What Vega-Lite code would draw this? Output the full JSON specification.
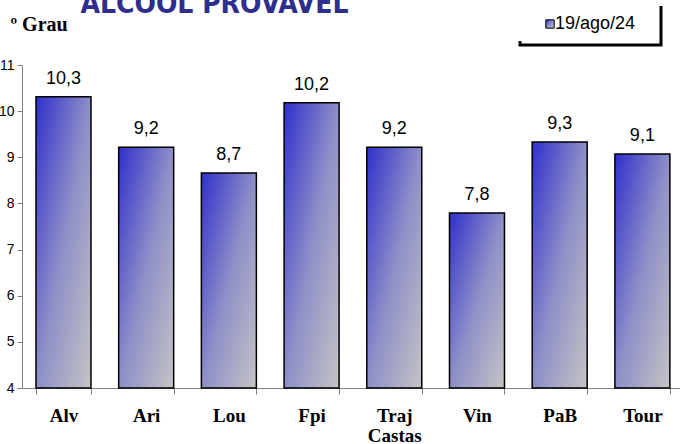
{
  "$schema": "https://vega.github.io/schema/vega-lite/v6.json",
  "width": 658,
  "height": 323,
  "autosize": {"type": "none"},
  "padding": {"left": 22, "top": 65, "right": 0, "bottom": 56},
  "data": {
    "values": [
      {"local": "Alv", "grau": 10.31, "rotulo": "10,3"},
      {"local": "Ari", "grau": 9.22, "rotulo": "9,2"},
      {"local": "Lou", "grau": 8.66, "rotulo": "8,7"},
      {"local": "Fpi", "grau": 10.18, "rotulo": "10,2"},
      {"local": "Traj Castas", "grau": 9.22, "rotulo": "9,2"},
      {"local": "Vin", "grau": 7.79, "rotulo": "7,8"},
      {"local": "PaB", "grau": 9.33, "rotulo": "9,3"},
      {"local": "Tour", "grau": 9.07, "rotulo": "9,1"}
    ]
  },
  "encoding": {
    "x": {
      "field": "local",
      "type": "nominal",
      "sort": null,
      "scale": {"paddingInner": 0.335, "paddingOuter": 0.1457, "align": 0.58},
      "axis": {
        "title": "ALCOOL PROVAVEL",
        "titleAngle": 0,
        "titleAlign": "left",
        "titleBaseline": "alphabetic",
        "titleX": 58,
        "titleY": -376,
        "titleFont": "DejaVu Sans Condensed",
        "titleFontWeight": "bold",
        "titleFontSize": 28,
        "titleColor": "#2e2e8e",
        "labelAngle": 0,
        "tickBand": "extent",
        "labelFont": "Liberation Serif",
        "labelFontWeight": "bold",
        "labelFontSize": 19,
        "labelColor": "#000000",
        "labelPadding": 12,
        "labelLineHeight": 20,
        "labelExpr": "datum.label == 'Traj Castas' ? ['Traj', 'Castas'] : datum.label",
        "domainColor": "#808080",
        "tickColor": "#808080",
        "tickSize": 6
      }
    },
    "y": {
      "field": "grau",
      "type": "quantitative",
      "scale": {"domain": [4, 11], "nice": false, "zero": false},
      "axis": {
        "values": [4, 5, 6, 7, 8, 9, 10, 11],
        "grid": false,
        "title": "º Grau",
        "titleAngle": 0,
        "titleAlign": "left",
        "titleBaseline": "alphabetic",
        "titleX": -12,
        "titleY": -35,
        "titleFont": "Liberation Serif",
        "titleFontWeight": "bold",
        "titleFontSize": 20,
        "titleColor": "#000000",
        "labelFont": "Liberation Sans",
        "labelFontSize": 14,
        "labelColor": "#000000",
        "labelPadding": 3,
        "domainColor": "#808080",
        "tickColor": "#808080",
        "tickSize": 5
      }
    }
  },
  "layer": [
    {
      "mark": {
        "type": "bar",
        "fill": {
          "gradient": "linear",
          "x1": 0, "y1": 0, "x2": 1, "y2": 1,
          "stops": [
            {"offset": 0, "color": "#3030cc"},
            {"offset": 0.5, "color": "#8e8ec8"},
            {"offset": 1, "color": "#c4c4c4"}
          ]
        },
        "strokeWidth": 1.5
      },
      "encoding": {
        "y2": {"datum": 4},
        "stroke": {
          "datum": "19/ago/24",
          "type": "nominal",
          "scale": {"range": ["#000000"]},
          "legend": {
            "title": null,
            "orient": "none",
            "legendX": 498,
            "legendY": -62,
            "padding": 12,
            "symbolOffset": 9,
            "symbolType": "square",
            "symbolSize": 70,
            "symbolStrokeWidth": 1,
            "labelFont": "Liberation Sans",
            "labelFontSize": 18,
            "labelColor": "#000000",
            "labelOffset": -4,
            "labelExpr": "datum.label + '\u2800'",
            "fillColor": "#ffffff",
            "strokeColor": "#000000"
          }
        }
      }
    },
    {
      "mark": {
        "type": "text",
        "baseline": "alphabetic",
        "dy": -13,
        "font": "Liberation Sans",
        "fontSize": 18,
        "color": "#000000"
      },
      "encoding": {
        "text": {"field": "rotulo", "type": "nominal"}
      }
    }
  ],
  "config": {
    "view": {"stroke": null},
    "legend": {"strokeWidth": 3, "strokeDash": [0, 144, 184, 1000]}
  }
}
